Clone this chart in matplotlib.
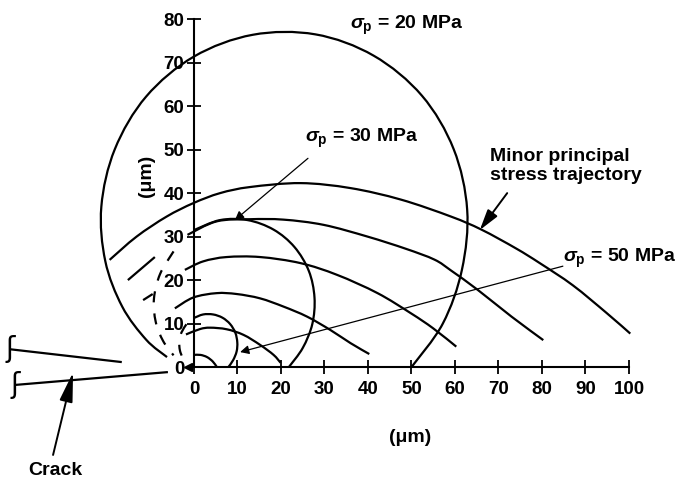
import matplotlib
matplotlib.use("Agg")
import numpy as np
import matplotlib.pyplot as plt
from matplotlib.path import Path
from matplotlib.patches import PathPatch

plt.rcParams["font.family"] = ["Liberation Sans", "DejaVu Sans"]
plt.rcParams["font.weight"] = "bold"
plt.rcParams["mathtext.fontset"] = "custom"
plt.rcParams["mathtext.rm"] = "Liberation Sans:bold"
plt.rcParams["mathtext.it"] = "Liberation Sans:italic:bold"

# ---- sigma_p contours (um) ----
c20_x = [50, 57.2, 61.6, 62.8, 59.7, 52.4, 41.3, 27.9, 13.5, 0, -11.0, -18.2, -21.3, -20.4, -16.5, -11.0, -6.2]
c20_y = [0, 10.0, 22.4, 36.2, 50.1, 62.4, 71.6, 76.5, 76.4, 71.4, 62.2, 50.1, 36.9, 24.4, 13.9, 6.3, 2.3]

c30_x = [21.8, 25.0, 27.2, 27.7, 26.4, 23.1, 18.3, 12.3, 6.0, 0]
c30_y = [0, 4.4, 9.9, 16.0, 22.1, 27.6, 31.6, 33.8, 33.8, 31.5]
c30_back_x = [-4.7, -7.8, -9.2, -8.8, -7.1, -4.7]
c30_back_y = [26.6, 21.4, 15.8, 10.4, 6.0, 2.7]

c50_x = [7.9, 9.0, 9.8, 9.95, 9.5, 8.3, 6.55, 4.4, 2.1, 0]
c50_y = [0, 1.6, 3.6, 5.7, 7.9, 9.9, 11.35, 12.1, 12.1, 11.3]
c50_back_x = [-1.74, -2.89, -3.38, -3.24, -2.62, -1.74]
c50_back_y = [9.85, 7.94, 5.85, 3.86, 2.2, 1.0]

inner_x = [0, 1.5, 3.0, 4.3, 5.2]
inner_y = [2.8, 2.8, 2.3, 1.3, 0.1]

# ---- minor principal stress trajectories ----
t1_x = [-1.85, 1.4, 3.7, 7.5, 11.4, 15.2, 18.3, 19.9]
t1_y = [7.5, 8.75, 9.06, 8.7, 7.4, 5.1, 2.8, 1.0]
t2_x = [-4.4, -0.15, 5.2, 9.8, 15.2, 20.6, 26.0, 31.4, 36.0, 40.3]
t2_y = [13.5, 16.0, 17.0, 16.8, 15.8, 13.9, 11.6, 8.5, 5.5, 3.0]
t3_x = [-2.1, 2.1, 7.5, 15.2, 24.5, 32.9, 42.2, 49.9, 55.0, 60.3]
t3_y = [22.35, 24.3, 25.3, 25.3, 23.9, 21.2, 17.0, 12.35, 8.9, 4.7]
t4_x = [-1.5, 5.2, 12.9, 20.6, 29.8, 39.9, 48.7, 55.3, 59.1, 65.3, 73.0, 80.3]
t4_y = [30.4, 33.5, 34.0, 33.9, 32.7, 30.0, 27.2, 24.7, 22.2, 17.7, 11.6, 6.2]
t5_x = [-19.4, -13.2, -6.3, -0.15, 6.0, 12.9, 24.5, 36.0, 47.6, 59.1, 66.1, 74.0, 79.5, 87.1, 94.9, 100.3]
t5_y = [24.65, 30.0, 34.6, 37.7, 40.0, 41.4, 42.3, 41.15, 38.5, 34.6, 31.6, 27.3, 23.9, 18.8, 12.4, 7.7]
# short dashes behind the crack tip
t3_back_x = [-11.7, -9.5]
t3_back_y = [15.4, 16.8]
t4_back_x = [-15.2, -9.0]
t4_back_y = [20.0, 25.3]

# crack faces
crack_up_x = [-42.3, -16.6]
crack_up_y = [4.1, 1.15]
crack_lo_x = [-41.1, -6.0]
crack_lo_y = [-4.1, -1.15]

x_ticks = list(range(0, 101, 10))
y_ticks = list(range(0, 81, 10))


def smooth_path(xs, ys):
    """Catmull-Rom through the read points, drawn as cubic Bezier segments."""
    p = np.column_stack([xs, ys]).astype(float)
    n = len(p)
    verts, codes = [p[0]], [Path.MOVETO]
    for i in range(n - 1):
        p0 = p[i - 1] if i > 0 else p[i]
        p3 = p[i + 2] if i + 2 < n else p[i + 1]
        verts += [p[i] + (p[i + 1] - p0) / 6, p[i + 1] - (p3 - p[i]) / 6, p[i + 1]]
        codes += [Path.CURVE4] * 3
    return Path(verts, codes)


fig = plt.figure(figsize=(6.79, 4.78), dpi=100)
ax = fig.add_axes([0, 0, 1, 1])
ax.set_xlim(-44.6, 111.5)
ax.set_ylim(-25.5, 84.4)

LW = 1.6
curves = [(c20_x, c20_y), (c30_x, c30_y), (c50_x, c50_y), (inner_x, inner_y),
          (t1_x, t1_y), (t2_x, t2_y), (t3_x, t3_y), (t4_x, t4_y), (t5_x, t5_y)]
for xs, ys in curves:
    ax.add_patch(PathPatch(smooth_path(xs, ys), fill=False, color="black", lw=LW,
                           capstyle="butt"))
for xs, ys in [(c30_back_x, c30_back_y), (c50_back_x, c50_back_y)]:
    ax.add_patch(PathPatch(smooth_path(xs, ys), fill=False, color="black", lw=LW,
                           ls=(0, (5, 5))))
for xs, ys in [(t3_back_x, t3_back_y), (t4_back_x, t4_back_y),
               (crack_up_x, crack_up_y), (crack_lo_x, crack_lo_y)]:
    ax.plot(xs, ys, color="black", lw=LW, solid_capstyle="butt")

# crack tip marker and break marks
ax.plot([-1.3], [0], marker="<", ms=6, color="black")
for bx, by in [(crack_up_x[0], crack_up_y[0]), (crack_lo_x[0], crack_lo_y[0])]:
    ax.text(bx, by, "ʃ", family="DejaVu Sans", fontsize=20,
            ha="center", va="center", weight="normal")

# axes through the origin
for side in ("top", "right"):
    ax.spines[side].set_visible(False)
ax.spines["left"].set_position(("data", 0))
ax.spines["bottom"].set_position(("data", 0))
ax.spines["left"].set_bounds(0, 80)
ax.spines["bottom"].set_bounds(0, 100)
for side in ("left", "bottom"):
    ax.spines[side].set_linewidth(1.5)
ax.set_xticks(x_ticks)
ax.set_yticks(y_ticks)
ax.tick_params(direction="inout", length=10, width=1.3, labelsize=13.5)
ax.tick_params(axis="x", pad=5)
ax.tick_params(axis="y", pad=2)
ax.patch.set_visible(False)

# labels
FS = 14
ax.text(35.9, 78.6, r"$\sigma_{\mathrm{p}}$ = 20 MPa", fontsize=FS, va="center", ha="left")
ax.text(25.5, 52.6, r"$\sigma_{\mathrm{p}}$ = 30 MPa", fontsize=FS, va="center", ha="left")
ax.text(84.8, 25.1, r"$\sigma_{\mathrm{p}}$ = 50 MPa", fontsize=FS, va="center", ha="left")
ax.text(68.0, 46.2, "Minor principal\nstress trajectory", fontsize=FS, va="center", ha="left",
        linespacing=1.1)
ax.text(49.7, -16.1, "(μm)", fontsize=FS, ha="center", va="center")
ax.text(-11.0, 44.0, "(μm)", fontsize=FS, ha="center", va="center", rotation=90)
ax.text(-31.9, -23.7, "Crack", fontsize=FS, ha="center", va="center")

thin = dict(arrowstyle="-|>", color="black", lw=0.9, mutation_scale=13, shrinkA=0, shrinkB=0)
ax.annotate("", xy=(9.4, 33.8), xytext=(26.2, 48.0), arrowprops=thin)
ax.annotate("", xy=(10.6, 3.45), xytext=(84.8, 23.2), arrowprops=thin)
ax.annotate("", xy=(65.7, 31.5), xytext=(72.0, 40.0),
            arrowprops=dict(arrowstyle="-|>,head_length=0.7,head_width=0.2", color="black",
                            lw=1.4, mutation_scale=18, shrinkA=0, shrinkB=0))
ax.annotate("", xy=(-27.8, -1.2), xytext=(-32.4, -20.2),
            arrowprops=dict(arrowstyle="-|>,head_length=0.9,head_width=0.2", color="black",
                            lw=1.4, mutation_scale=20, shrinkA=0, shrinkB=0))

fig.savefig("out.png", dpi=100)
